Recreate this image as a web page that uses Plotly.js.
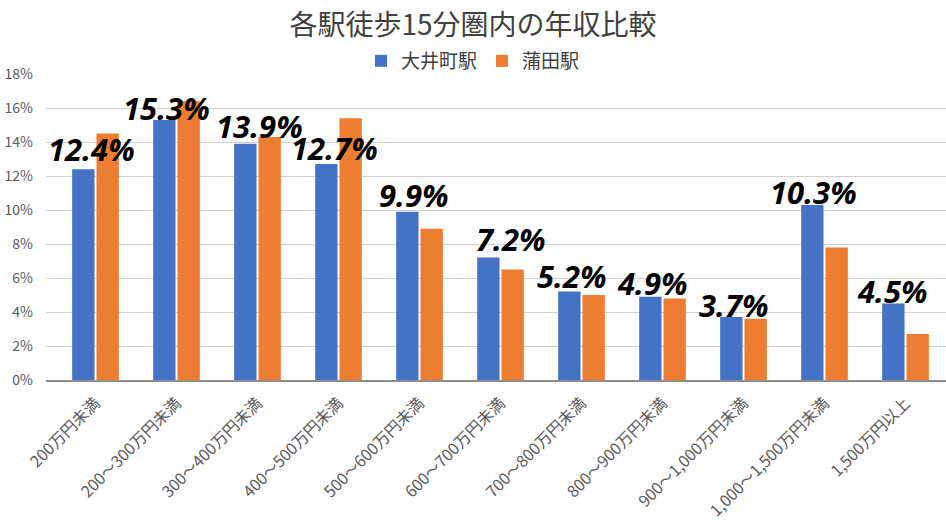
<!DOCTYPE html>
<html><head><meta charset="utf-8">
<script src="https://cdn.plot.ly/plotly-3.0.1.min.js"></script>
<style>body{margin:0;background:#fff}#c{width:946px;height:532px}</style>
</head><body><div id="c"></div>
<script>
const categories = ["200万円未満","200～300万円未満","300～400万円未満","400～500万円未満","500～600万円未満","600～700万円未満","700～800万円未満","800～900万円未満","900～1,000万円未満","1,000～1,500万円未満","1,500万円以上"];
const ooimachi = [12.4,15.3,13.9,12.7,9.9,7.2,5.2,4.9,3.7,10.3,4.5];
const kamata = [14.5,16.4,14.3,15.4,8.9,6.5,5.0,4.8,3.6,7.8,2.7];
const seriesNames = ["大井町駅","蒲田駅"];
const tickVals = [0,2,4,6,8,10,12,14,16,18];
const tickText = tickVals.map(v => v + "%");

// label placement tweaks (pixels), styling only
const labelDx = [-4,-10,1.5,-4,-5.5,10,-10,-10,-9.5,-11,-13.5];
const labelGap = [10,2,8,6,7,9,6,4,2,3,3];

const jp = '"Noto Sans CJK JP", "Noto Sans", sans-serif';
const traces = [
  {type:"bar", name:seriesNames[0], x:categories, y:ooimachi, marker:{color:"#4472C4"}, hoverinfo:"y"},
  {type:"bar", name:seriesNames[1], x:categories, y:kamata, marker:{color:"#ED7D31"}, hoverinfo:"y"}
];
const annotations = categories.map((c,i) => ({
  x:c, y:ooimachi[i], xref:"x", yref:"y", text:ooimachi[i].toFixed(1)+"%",
  showarrow:false, yanchor:"bottom", xanchor:"center", xshift:labelDx[i], yshift:labelGap[i]-13,
  font:{family:'"Noto Sans", "DejaVu Sans", sans-serif', size:31, color:"#000", weight:700, style:"italic"}
}));
const layout = {
  width:946, height:532,
  margin:{l:46, r:0, t:74, b:152},
  paper_bgcolor:"#fff", plot_bgcolor:"#fff",
  title:{text:"各駅徒歩15分圏内の年収比較", x:0.5, xanchor:"center", y:1-25/532, yanchor:"middle", font:{family:jp, size:28, color:"#404040"}},
  legend:{orientation:"h", x:(473-46)/900, xanchor:"center", y:1+13/306, yanchor:"middle", font:{family:jp, size:19, color:"#404040"}, itemwidth:30},
  barmode:"group", bargap:0.40, bargroupgap:0.08,
  xaxis:{tickangle:-45, tickfont:{family:jp, size:16, color:"#595959"}, showline:true, linecolor:"#8c8c8c", linewidth:1.5, ticks:"", ticklabelstandoff:6, automargin:false},
  yaxis:{range:[0,18], tickvals:tickVals, ticktext:tickText, tickfont:{family:jp, size:14, color:"#595959"}, gridcolor:"#d0d0d0", gridwidth:1, zeroline:false, showline:false, ticks:"", ticklabelstandoff:12, automargin:false},
  annotations:annotations,
  showlegend:true
};
Plotly.newPlot("c", traces, layout, {displayModeBar:false, staticPlot:true});
</script></body></html>
